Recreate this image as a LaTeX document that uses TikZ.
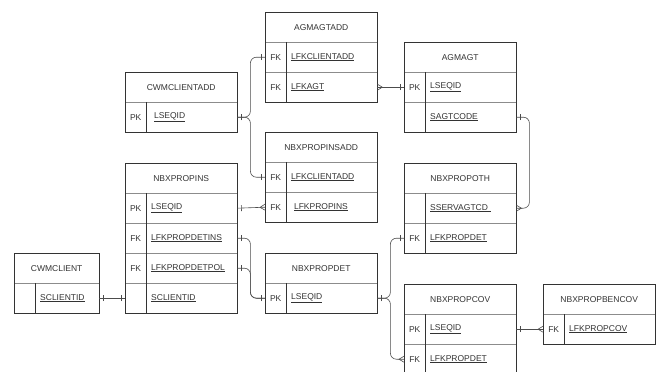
\documentclass[tikz,border=0pt]{standalone}
\usepackage{fontspec}
\usetikzlibrary{decorations.markings}
\usetikzlibrary{calc}
\newfontfamily\erfamily{Liberation Sans}
\newcommand{\erfont}{\erfamily\fontsize{8.5}{9.5}\selectfont}

\begin{document}
\begin{tikzpicture}[x=1pt,y=-1pt,
	hd/.style={draw=black!45, minimum width=112pt, minimum height=30pt, inner sep=0pt, anchor=north west, font=\erfont, text=black!80},
	kc/.style={draw=black!45, minimum width=21pt, minimum height=30pt, inner sep=0pt, anchor=north west, font=\erfont, text=black!80},
	fc/.style={draw=black!45, minimum width=91pt, minimum height=30pt, inner xsep=5pt, inner ysep=0pt, text width=81pt, align=left, anchor=north west, font=\erfont, text=black!80},
	frame/.style={draw=black!80, line width=0.7pt},
	rel/.style={draw=black!70, line width=0.6pt, rounded corners=6pt},
	onestart/.style={postaction={decorate, decoration={markings, mark=at position 4pt with {\draw[black!70, line width=0.6pt, sharp corners] (0,-3pt) -- (0,3pt);}}}},
	oneend/.style={postaction={decorate, decoration={markings, mark=at position -4pt with {\draw[black!70, line width=0.6pt, sharp corners] (0,-3pt) -- (0,3pt);}}}},
	manystart/.style={postaction={decorate, decoration={markings, mark=at position 0 with {\draw[black!70, line width=0.6pt, sharp corners] (0,-3pt) -- (5pt,0) -- (0,3pt);}}}},
	manyend/.style={postaction={decorate, decoration={markings, mark=at position 1 with {\draw[black!70, line width=0.6pt, sharp corners] (0,-3pt) -- (-5pt,0) -- (0,3pt);}}}}
	]
	\useasboundingbox (0,0) rectangle (659,372);
	
	% AGMAGTADD
	\node[hd] (agtadd) at (265,12) {AGMAGTADD};
	\node[kc] (agtadd1k) at (265,42) {FK};
	\node[fc] (agtadd1) at (286,42) {\underline{LFKCLIENTADD}};
	\node[kc] (agtadd2k) at (265,72) {FK};
	\node[fc] (agtadd2) at (286,72) {\underline{LFKAGT}};
	\draw[frame] (agtadd.north west) rectangle (agtadd2.south east);
	\draw[frame] (agtadd1k.north east) -- (agtadd2k.south east);
	
	% CWMCLIENTADD
	\node[hd] (cadd) at (125,72) {CWMCLIENTADD};
	\node[kc] (cadd1k) at (125,102) {PK};
	\node[fc] (cadd1) at (146,102) {\ \underline{LSEQID}};
	\draw[frame] (cadd.north west) rectangle (cadd1.south east);
	\draw[frame] (cadd1k.north east) -- (cadd1k.south east);
	
	% NBXPROPINSADD
	\node[hd] (insadd) at (265,132) {NBXPROPINSADD};
	\node[kc] (insadd1k) at (265,162) {FK};
	\node[fc] (insadd1) at (286,162) {\underline{LFKCLIENTADD}};
	\node[kc] (insadd2k) at (265,192) {FK};
	\node[fc] (insadd2) at (286,192) {\ \underline{LFKPROPINS}};
	\draw[frame] (insadd.north west) rectangle (insadd2.south east);
	\draw[frame] (insadd1k.north east) -- (insadd2k.south east);
	
	% AGMAGT
	\node[hd] (agt) at (404,42) {AGMAGT};
	\node[kc] (agt1k) at (404,72) {PK};
	\node[fc] (agt1) at (425,72) {\underline{LSEQID}};
	\node[kc] (agt2k) at (404,102) {};
	\node[fc] (agt2) at (425,102) {\underline{SAGTCODE}};
	\draw[frame] (agt.north west) rectangle (agt2.south east);
	\draw[frame] (agt1k.north east) -- (agt2k.south east);
	
	% NBXPROPOTH
	\node[hd] (oth) at (404,163) {NBXPROPOTH};
	\node[kc] (oth1k) at (404,193) {};
	\node[fc] (oth1) at (425,193) {\underline{SSERVAGTCD\ }};
	\node[kc] (oth2k) at (404,223) {FK};
	\node[fc] (oth2) at (425,223) {\underline{LFKPROPDET}};
	\draw[frame] (oth.north west) rectangle (oth2.south east);
	\draw[frame] (oth1k.north east) -- (oth2k.south east);
	
	% NBXPROPINS
	\node[hd] (ins) at (125,163) {NBXPROPINS};
	\node[kc] (ins1k) at (125,193) {PK};
	\node[fc] (ins1) at (146,193) {\underline{LSEQID}};
	\node[kc] (ins2k) at (125,223) {FK};
	\node[fc] (ins2) at (146,223) {\underline{LFKPROPDETINS}};
	\node[kc] (ins3k) at (125,253) {FK};
	\node[fc] (ins3) at (146,253) {\underline{LFKPROPDETPOL}};
	\node[kc] (ins4k) at (125,283) {};
	\node[fc] (ins4) at (146,283) {\underline{SCLIENTID}};
	\draw[frame] (ins.north west) rectangle (ins4.south east);
	\draw[frame] (ins1k.north east) -- (ins4k.south east);
	
	% CWMCLIENT
	\node[hd, minimum width=85pt] (cli) at (14,253) {CWMCLIENT};
	\node[kc] (cli1k) at (14,283) {};
	\node[fc, minimum width=64pt, text width=54pt] (cli1) at (35,283) {\underline{SCLIENTID}};
	\draw[frame] (cli.north west) rectangle (cli1.south east);
	\draw[frame] (cli1k.north east) -- (cli1k.south east);
	
	% NBXPROPDET
	\node[hd] (det) at (265,253) {NBXPROPDET};
	\node[kc] (det1k) at (265,283) {PK};
	\node[fc] (det1) at (286,283) {\underline{LSEQID}};
	\draw[frame] (det.north west) rectangle (det1.south east);
	\draw[frame] (det1k.north east) -- (det1k.south east);
	
	% NBXPROPCOV
	\node[hd] (cov) at (404,284) {NBXPROPCOV};
	\node[kc] (cov1k) at (404,314) {PK};
	\node[fc] (cov1) at (425,314) {\underline{LSEQID}};
	\node[kc] (cov2k) at (404,344) {FK};
	\node[fc] (cov2) at (425,344) {\underline{LFKPROPDET}};
	\draw[frame] (cov.north west) rectangle (cov2.south east);
	\draw[frame] (cov1k.north east) -- (cov2k.south east);
	
	% NBXPROPBENCOV
	\node[hd] (ben) at (543,284) {NBXPROPBENCOV};
	\node[kc] (ben1k) at (543,314) {FK};
	\node[fc] (ben1) at (564,314) {\underline{LFKPROPCOV}};
	\draw[frame] (ben.north west) rectangle (ben1.south east);
	\draw[frame] (ben1k.north east) -- (ben1k.south east);
	
	% relations
	\draw[rel, onestart, oneend] (cadd1.east) -- ++(13,0) |- (agtadd1k.west);
	\draw[rel, onestart, oneend] (cadd1.east) -- ++(13,0) |- (insadd1k.west);
	\draw[rel, manystart, oneend] (agtadd2.east) -- (agt1k.west);
	\draw[rel, onestart, manyend] (agt2.east) -- ++(13,0) |- (oth1.east);
	\draw[rel, onestart, manyend] (ins1.east) -- (insadd2k.west);
	\draw[rel, onestart, oneend] (ins2.east) -- ++(13,0) |- (det1k.west);
	\draw[rel, onestart, oneend] (ins3.east) -- ++(13,0) |- (det1k.west);
	\draw[rel, onestart, oneend] (cli1.east) -- (ins4k.west);
	\draw[rel, onestart, oneend] (det1.east) -- ++(13,0) |- (oth2k.west);
	\draw[rel, onestart, manyend] (det1.east) -- ++(13,0) |- (cov2k.west);
	\draw[rel, onestart, manyend] (cov1.east) -- (ben1k.west);
	
\end{tikzpicture}
\end{document}
